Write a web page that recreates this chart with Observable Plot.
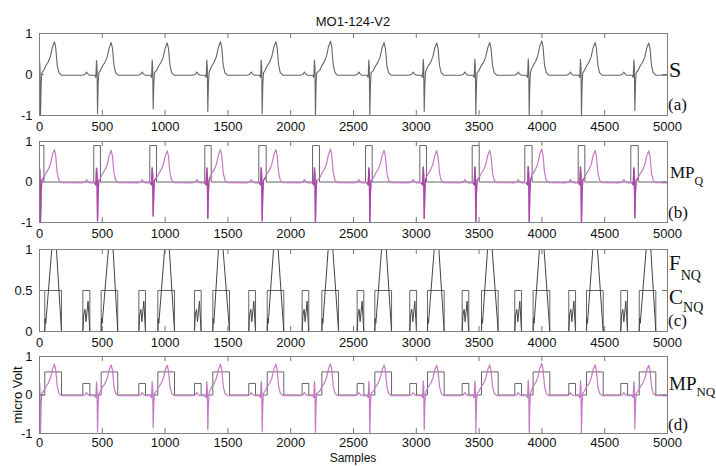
<!DOCTYPE html>
<html><head><meta charset="utf-8">
<script src="https://cdn.jsdelivr.net/npm/d3@7"></script>
<script src="https://cdn.jsdelivr.net/npm/@observablehq/plot@0.6"></script>
<style>
body{margin:0;background:#fff;}
#root{position:relative;width:716px;height:466px;overflow:hidden;font-family:"Liberation Sans",Arial,sans-serif;}
#root > svg{position:absolute;left:0;}
#labels{position:absolute;left:0;top:0;pointer-events:none;}
</style></head><body><div id="root"></div>
<script>
// ---------- tick labels ----------
const xTicks = [0, 500, 1000, 1500, 2000, 2500, 3000, 3500, 4000, 4500, 5000];
const yTicksSym = [-1, 0, 1];
const yTicksC = [0, 0.5, 1];

// ---------- beats (sample positions) ----------
const spikePos = [8, 462, 905, 1340, 1773, 2197, 2630, 3063, 3474, 3899, 4315, 4740];
const spikeMin = [-1, -0.96, -0.84, -0.9, -0.96, -1, -1, -0.9, -0.98, -1, -1, -0.88];
const rHeight  = [0.35, 0.34, 0.35, 0.35, 0.35, 0.35, 0.35, 0.37, 0.37, 0.38, 0.37, 0.35];
const tPos     = [119, 571, 1017, 1441, 1882, 2317, 2744, 3163, 3585, 3999, 4424, 4851];
const tHeight  = [0.8, 0.78, 0.77, 0.8, 0.8, 0.81, 0.78, 0.77, 0.78, 0.82, 0.78, 0.77];

// P-wave / baseline shape before each spike (offset, value)
const preShape = [[-125, -0.02], [-100, 0.0], [-88, 0.06], [-76, 0.01], [-62, -0.02], [-22, -0.02], [-13, -0.07]];
// T-wave shape relative to T peak (offset, fraction of peak)
const tShape = [[-85, 0.13], [-70, 0.26], [-50, 0.38], [-32, 0.55], [-16, 0.84], [0, 1], [10, 0.82], [22, 0.28], [35, 0.06], [55, -0.02]];

// ---------- detection windows (panel b, c, d) ----------
const qrsStart = [0, 432, 878, 1316, 1746, 2174, 2596, 3028, 3445, 3864, 4289, 4708];
const qrsEnd   = [35, 485, 932, 1367, 1805, 2229, 2649, 3081, 3501, 3922, 4342, 4767];
const pStart = [345, 791, 1234, 1666, 2091, 2529, 2948, 3365, 3784, 4214, 4628];
const pEnd   = [401, 844, 1287, 1720, 2144, 2582, 3002, 3418, 3838, 4268, 4682];
const tStart = [42, 491, 942, 1380, 1813, 2248, 2670, 3089, 3519, 3930, 4355, 4775];
const tEnd   = [175, 623, 1075, 1513, 1945, 2381, 2803, 3222, 3652, 4063, 4488, 4907];

const qBoxHeight = 0.9;
const cHeight = 0.5;
const pBoxHeight = 0.3;
const tBoxHeight = 0.6;
const fApex = 1.4;
// F_NQ shape inside a P window (fraction of window, value)
const fPShape = [[0, 0], [0.12, 0.2], [0.3, 0.27], [0.45, 0.12], [0.75, 0.37], [0.92, 0.1], [1, 0]];

// ---------- build the ECG signal ----------
const sig = [];
spikePos.forEach((s, i) => {
  for (const [dx, v] of preShape) sig.push({x: s + dx, y: v});
  sig.push({x: s - 8, y: rHeight[i]}, {x: s - 4, y: rHeight[i] * 0.5}, {x: s, y: spikeMin[i]}, {x: s + 5, y: -0.25}, {x: s + 10, y: 0.04});
  for (const [dx, v] of tShape) sig.push({x: tPos[i] + dx, y: v * tHeight[i]});
});
sig.push({x: 5000, y: -0.02});

// QRS parts for darker overlay in (b)
const qrsParts = [];
qrsStart.forEach((a, i) => {
  sig.filter(d => d.x >= a - 12 && d.x <= qrsEnd[i]).forEach(d => qrsParts.push({...d, z: i}));
});

// box line (b)
const qBox = [{x: 0, y: 0}];
qrsStart.forEach((a, i) => qBox.push({x: a, y: 0}, {x: a, y: qBoxHeight}, {x: qrsEnd[i], y: qBoxHeight}, {x: qrsEnd[i], y: 0}));
qBox.push({x: 5000, y: 0});

// windows merged
const wins = [];
tStart.forEach((a, i) => wins.push({a, b: tEnd[i], kind: "T", i}));
pStart.forEach((a, i) => wins.push({a, b: pEnd[i], kind: "P", i}));
wins.sort((u, v) => u.a - v.a);

// C_NQ line
const cLine = [{x: 0, y: 0}];
wins.forEach(w => cLine.push({x: w.a, y: 0}, {x: w.a, y: cHeight}, {x: w.b, y: cHeight}, {x: w.b, y: 0}));
cLine.push({x: 5000, y: 0});

// F_NQ line
const fLine = [{x: 0, y: 0}];
wins.forEach(w => {
  if (w.kind === "P") {
    for (const [f, v] of fPShape) fLine.push({x: w.a + f * (w.b - w.a), y: v});
  } else {
    fLine.push({x: w.a, y: 0}, {x: w.a + 3, y: 0.16}, {x: w.a + 8, y: 0.1}, {x: tPos[w.i], y: fApex}, {x: w.b, y: 0});
  }
});
fLine.push({x: 5000, y: 0});

// MP_NQ boxes
const nqBox = [{x: 0, y: 0}];
wins.forEach(w => {
  const h = w.kind === "P" ? pBoxHeight : tBoxHeight;
  nqBox.push({x: w.a, y: 0}, {x: w.a, y: h}, {x: w.b, y: h}, {x: w.b, y: 0});
});
nqBox.push({x: 5000, y: 0});

// ---------- panel builder ----------
const ML = 39, MR = 49, W = 716;
const gray = "#666666", pink = "#c67ac6", dark = "#aa48aa";
function panel({top, marginTop, frameH, yDomain, yTicks, marks, xPad = 6}) {
  const marginBottom = 16;
  const tickLenY = 5 / frameH * (yDomain[1] - yDomain[0]);
  const tickLenX = 5 / (W - ML - MR) * 5000;
  const inner = xTicks.slice(1, -1);
  const svg = Plot.plot({
    width: W, height: marginTop + frameH + marginBottom,
    marginLeft: ML, marginRight: MR, marginTop, marginBottom,
    style: {background: "transparent", fontSize: "13px", fontFamily: "Liberation Sans, Arial, sans-serif", color: "#111", overflow: "visible"},
    x: {domain: [0, 5000], ticks: xTicks, tickSize: 0, tickPadding: xPad, tickFormat: d => String(d), label: null},
    y: {domain: yDomain, ticks: yTicks, tickSize: 0, tickPadding: 7, tickFormat: d => String(d), label: null},
    marks: [
      ...marks,
      Plot.ruleX(inner, {x: d => d, y1: yDomain[1], y2: yDomain[1] - tickLenY, stroke: "#777"}),
      Plot.ruleX(inner, {x: d => d, y1: yDomain[0], y2: yDomain[0] + tickLenY, stroke: "#777"}),
      Plot.ruleY(yTicks, {y: d => d, x1: 0, x2: tickLenX, stroke: "#777"}),
      Plot.ruleY(yTicks, {y: d => d, x1: 5000 - tickLenX, x2: 5000, stroke: "#777"}),
      Plot.frame({stroke: "#808080"})
    ]
  });
  svg.style.top = top + "px";
  return svg;
}

const root = document.getElementById("root");
root.append(panel({top: 0, marginTop: 33, frameH: 82, yDomain: [-1, 1], yTicks: yTicksSym, marks: [
  Plot.line(sig, {x: "x", y: "y", stroke: gray, strokeWidth: 1.1, clip: true})
]}));
root.append(panel({top: 131, marginTop: 10, frameH: 81, yDomain: [-1, 1], yTicks: yTicksSym, marks: [
  Plot.line(qBox, {x: "x", y: "y", stroke: gray, strokeWidth: 1, clip: true}),
  Plot.line(sig, {x: "x", y: "y", stroke: pink, strokeWidth: 1.2, clip: true}),
  Plot.line(qrsParts, {x: "x", y: "y", z: "z", stroke: dark, strokeWidth: 1.3, clip: true})
]}));
root.append(panel({top: 238, marginTop: 11, frameH: 82, yDomain: [0, 1], yTicks: yTicksC, marks: [
  Plot.line(cLine, {x: "x", y: "y", stroke: gray, strokeWidth: 1, clip: true}),
  Plot.line(fLine, {x: "x", y: "y", stroke: "#444", strokeWidth: 1, clip: true})
]}));
root.append(panel({top: 346, marginTop: 10, frameH: 77, yDomain: [-1, 1], yTicks: yTicksSym, xPad: 4, marks: [
  Plot.line(nqBox, {x: "x", y: "y", stroke: gray, strokeWidth: 1, clip: true}),
  Plot.line(sig, {x: "x", y: "y", stroke: pink, strokeWidth: 1.2, clip: true})
]}));

// ---------- labels ----------
const ns = "http://www.w3.org/2000/svg";
const lab = document.createElementNS(ns, "svg");
lab.setAttribute("id", "labels");
lab.setAttribute("width", 716); lab.setAttribute("height", 466);
lab.innerHTML = `
<g font-family="Liberation Sans, Arial, sans-serif" font-size="13" fill="#111" text-anchor="middle">
  <text x="353" y="26">MO1-124-V2</text>
  <text x="353" y="462" font-size="12">Samples</text>
  <text transform="translate(22,395) rotate(-90)">micro Volt</text>
</g>
<g font-family="Liberation Serif, Times New Roman, serif" fill="#111">
  <text x="669" y="77" font-size="22">S</text>
  <text x="668" y="110" font-size="17">(a)</text>
  <text x="670" y="178" font-size="17">MP<tspan font-size="12" dy="7">Q</tspan></text>
  <text x="668" y="218" font-size="17">(b)</text>
  <text x="669" y="270" font-size="21">F<tspan font-size="14" dy="10">NQ</tspan></text>
  <text x="669" y="304" font-size="21">C<tspan font-size="14" dy="8">NQ</tspan></text>
  <text x="668" y="326" font-size="17">(c)</text>
  <text x="669" y="390" font-size="19">MP<tspan font-size="13" dy="6">NQ</tspan></text>
  <text x="668" y="430" font-size="17">(d)</text>
</g>`;
root.append(lab);
</script></body></html>
